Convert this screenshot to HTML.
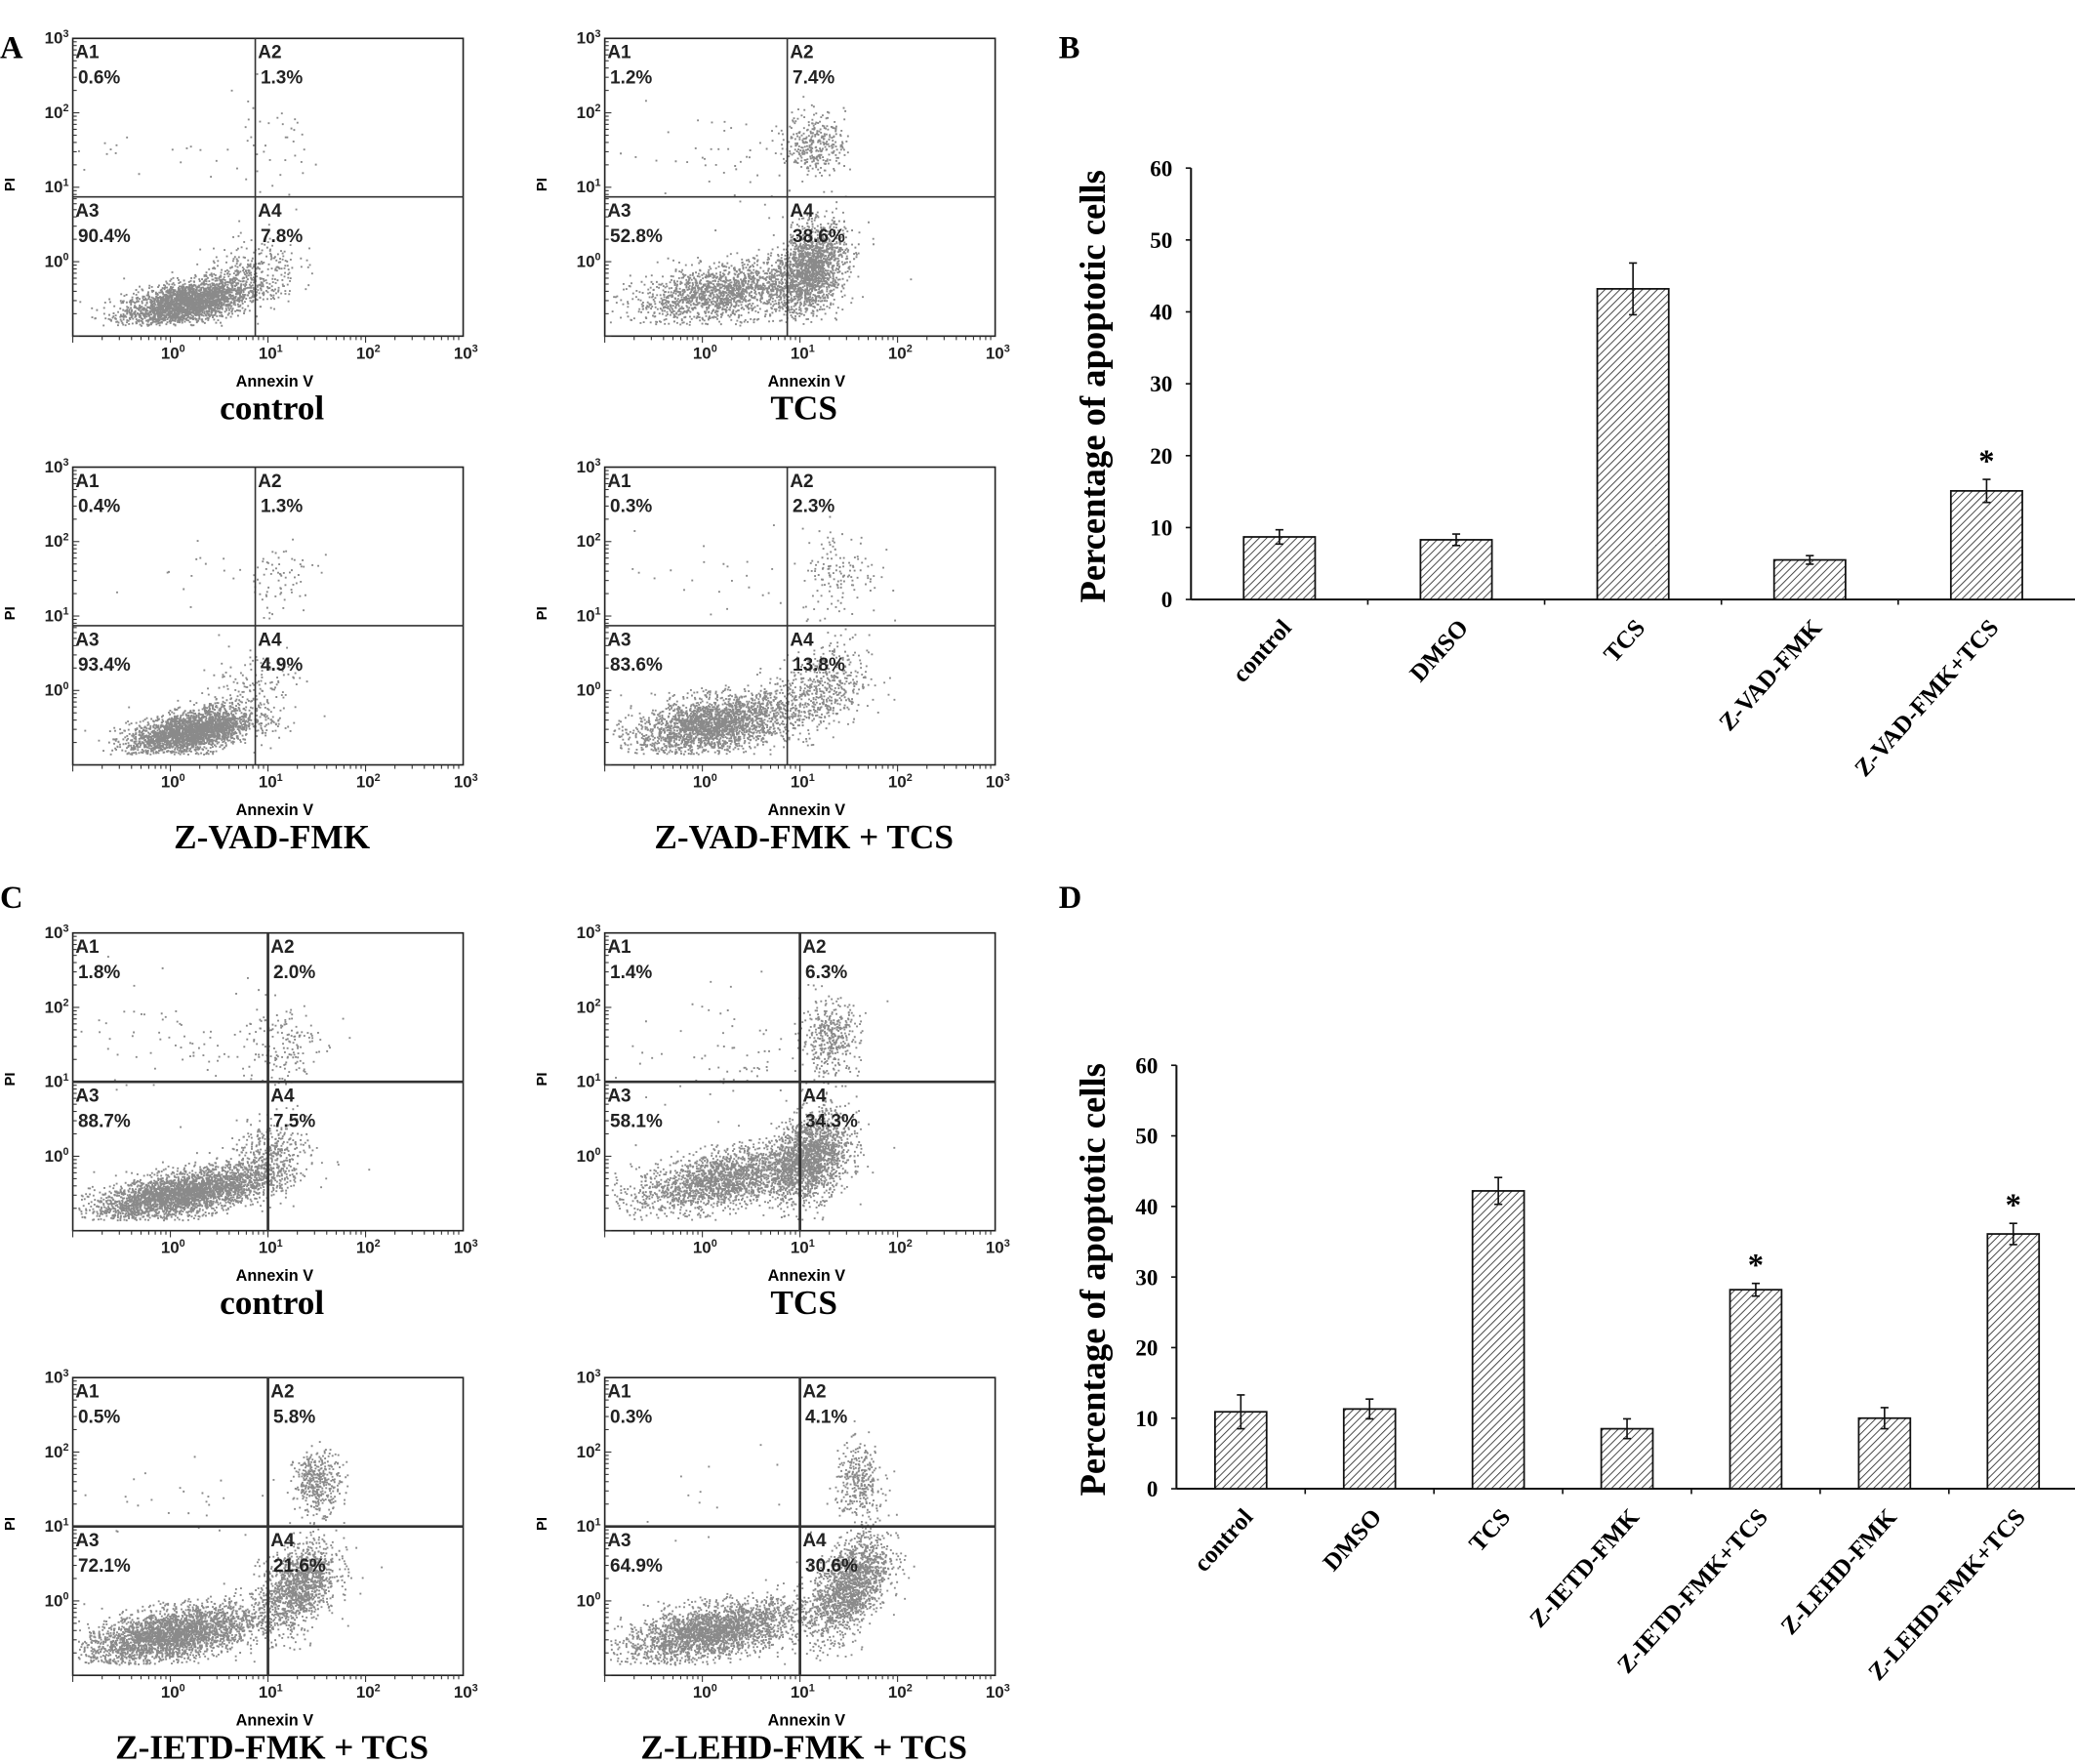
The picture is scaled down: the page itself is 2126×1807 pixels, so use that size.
<!DOCTYPE html>
<html><head><meta charset="utf-8"><style>
html,body{margin:0;padding:0;background:#fff}
svg{display:block}
.ser{font-family:"Liberation Serif",serif;font-weight:bold}
.san{font-family:"Liberation Sans",sans-serif;font-weight:bold}
</style></head><body>
<svg id="fig" width="2126" height="1807" viewBox="0 0 1568 1333" preserveAspectRatio="none" xmlns="http://www.w3.org/2000/svg">
<defs>
<pattern id="hatch" patternUnits="userSpaceOnUse" width="4" height="4" patternTransform="rotate(45)">
<rect width="4" height="4" fill="#fff"/><line x1="0" y1="0" x2="0" y2="4" stroke="#333" stroke-width="1.3"/>
</pattern>
</defs>
<text class="ser" x="0" y="44" font-size="24">A</text>
<text class="ser" x="800" y="44" font-size="24">B</text>
<text class="ser" x="0" y="686" font-size="24">C</text>
<text class="ser" x="800" y="686" font-size="24">D</text>
<g id="layer"></g>
</svg>
<script>
// ---- Bar chart data ----
const catsB = ["control","DMSO","TCS","Z-VAD-FMK","Z-VAD-FMK+TCS"];
const valsB = [8.7, 8.3, 43.2, 5.5, 15.1];
const errsB = [1.0, 0.8, 3.6, 0.6, 1.6];
const starB = [false,false,false,false,true];
const catsD = ["control","DMSO","TCS","Z-IETD-FMK","Z-IETD-FMK+TCS","Z-LEHD-FMK","Z-LEHD-FMK+TCS"];
const valsD = [10.9, 11.3, 42.2, 8.5, 28.2, 10.0, 36.1];
const errsD = [2.4, 1.4, 1.9, 1.4, 0.9, 1.5, 1.5];
const starD = [false,false,false,false,true,false,true];
const yTicks = [0,10,20,30,40,50,60];
// ---- Flow plot quadrant percentages [A1,A2,A3,A4] ----
const pctA_control = ["0.6%","1.3%","90.4%","7.8%"];
const pctA_tcs = ["1.2%","7.4%","52.8%","38.6%"];
const pctA_zvad = ["0.4%","1.3%","93.4%","4.9%"];
const pctA_zvadtcs = ["0.3%","2.3%","83.6%","13.8%"];
const pctC_control = ["1.8%","2.0%","88.7%","7.5%"];
const pctC_tcs = ["1.4%","6.3%","58.1%","34.3%"];
const pctC_ietd = ["0.5%","5.8%","72.1%","21.6%"];
const pctC_lehd = ["0.3%","4.1%","64.9%","30.6%"];

const NS="http://www.w3.org/2000/svg";
const layer=document.getElementById('layer');
function el(tag,attrs,parent){const e=document.createElementNS(NS,tag);for(const k in attrs)e.setAttribute(k,attrs[k]);(parent||layer).appendChild(e);return e;}

let seed=12345;
function rnd(){seed=(seed*1103515245+12345)%2147483648;return seed/2147483648;}
function gauss(){let u=0,v=0;while(u===0)u=rnd();v=rnd();return Math.sqrt(-2*Math.log(u))*Math.cos(2*Math.PI*v);}

function flow(x0,y0,q,pct,clusters,title,name,thick){
  const w=295,h=225;
  const g=el('g',{});
  
  
  const X=l=>x0+(l+1)*w/4, Y=l=>y0+(3-l)*h/4;
  let d='';
  clusters.forEach(c=>{const n=Math.round(c[5]*1.8);for(let i=0;i<n;i++){const a=gauss(),b=gauss();const lx=c[0]+c[2]*a;const ly=c[1]+c[3]*(c[4]*a+Math.sqrt(1-c[4]*c[4])*b);
    if(lx<-0.95||lx>2.95||ly<-0.85||ly>2.95)continue;d+='M'+X(lx).toFixed(1)+' '+Y(ly).toFixed(1)+'h1.4v1.4h-1.4z';}});
  const dots=el('path',{d:d,fill:'#8a8a8a'},g);
  
  
  el('rect',{x:x0,y:y0,width:w,height:h,fill:'none',stroke:'#222','stroke-width':1.2},g);
  el('line',{x1:X(q),x2:X(q),y1:y0,y2:y0+h,stroke:'#333','stroke-width':thick?2:1.2},g);
  el('line',{x1:x0,x2:x0+w,y1:Y(q),y2:Y(q),stroke:'#333','stroke-width':thick?2:1.2},g);
  for(let dec=-1;dec<3;dec++){for(let m=1;m<10;m++){const l=dec+Math.log10(m);
    const L=m===1?5:3;
    el('line',{x1:X(l),x2:X(l),y1:y0+h,y2:y0+h+L,stroke:'#333','stroke-width':0.8},g);
    el('line',{x1:x0,x2:x0+L,y1:Y(l),y2:Y(l),stroke:'#333','stroke-width':0.8},g);}}
  for(let l=0;l<=3;l++){
    const t=el('text',{x:X(l)+2,y:y0+h+17,'font-size':12.5,'text-anchor':'middle',class:'san',fill:'#222'},g);
    t.innerHTML='10<tspan font-size="8" dy="-5">'+l+'</tspan>';
    
    
    const t2=el('text',{x:x0-3,y:Y(l)+4,'font-size':12.5,'text-anchor':'end',class:'san',fill:'#222'},g);
    t2.innerHTML='10<tspan font-size="8" dy="-5">'+l+'</tspan>';
    
    
  }
  const py=el('text',{x:0,y:0,'font-size':11,class:'san','text-anchor':'middle',transform:'translate('+(x0-44)+','+(Y(1)-2)+') rotate(-90)'},g);
  py.textContent='PI';
  
  
  const ax=el('text',{x:x0+w/2+5,y:y0+h+38,'font-size':12,class:'san','text-anchor':'middle'},g);
  ax.textContent='Annexin V';
  
  
  const ti=el('text',{x:x0+w/2+3,y:y0+h+63,'font-size':26,class:'ser','text-anchor':'middle'},g);
  ti.textContent=title;
  
  
  const qx=X(q),qy=Y(q);
  const pos=[[x0,y0],[qx,y0],[x0,qy],[qx,qy]];
  ['A1','A2','A3','A4'].forEach((n,i)=>{
    const a=el('text',{x:pos[i][0]+2,y:pos[i][1]+15,'font-size':14,class:'san',fill:'#222'},g);a.textContent=n;
    
    
    const p=el('text',{x:pos[i][0]+4,y:pos[i][1]+34,'font-size':14,class:'san',fill:'#222'},g);p.textContent=pct[i];
    
    
  });
}
const qA=0.87;
flow(55,29,qA,pctA_control,[[0.15,-0.55,0.32,0.16,0.5,1400],[0.8,-0.2,0.25,0.25,0.3,200],[1.0,1.5,0.3,0.4,0,20],[0,1.4,0.6,0.3,0,12]],'control','flow-a-control',false);
flow(457,29,qA,pctA_tcs,[[0.2,-0.4,0.45,0.2,0.4,900],[1.1,-0.1,0.18,0.3,0.3,900],[1.15,1.6,0.15,0.2,0,180],[0.3,1.4,0.6,0.4,0,30]],'TCS','flow-a-tcs',false);
flow(55,353,qA,pctA_zvad,[[0.2,-0.55,0.32,0.16,0.5,1400],[0.8,0,0.25,0.3,0.3,100],[1.1,1.5,0.2,0.25,0,40],[0,1.6,0.5,0.2,0,8]],'Z-VAD-FMK','flow-a-zvad',false);
flow(457,353,qA,pctA_zvadtcs,[[0.1,-0.45,0.4,0.2,0.4,1300],[1.2,0,0.25,0.3,0.3,300],[1.4,1.6,0.2,0.3,0,80],[0,1.5,0.5,0.3,0,12]],'Z-VAD-FMK + TCS','flow-a-zvad-tcs',false);
flow(55,705,1,pctC_control,[[0.1,-0.5,0.45,0.18,0.6,1700],[1.0,0,0.2,0.25,0.3,250],[1.1,1.5,0.2,0.3,0,90],[0.3,1.5,0.6,0.4,0,40]],'control','flow-c-control',true);
flow(457,705,1,pctC_tcs,[[0.2,-0.3,0.45,0.22,0.5,1100],[1.1,0,0.2,0.3,0.3,900],[1.3,1.6,0.15,0.25,0,220],[0.4,1.4,0.6,0.4,0,40]],'TCS','flow-c-tcs',true);
flow(55,1041,1,pctC_ietd,[[0,-0.45,0.45,0.2,0.5,1600],[1.3,0.2,0.2,0.3,0.4,700],[1.5,1.6,0.12,0.2,0,220],[0.2,1.4,0.5,0.3,0,15]],'Z-IETD-FMK + TCS','flow-c-ietd-tcs',true);
flow(457,1041,1,pctC_lehd,[[0.1,-0.4,0.45,0.2,0.5,1400],[1.5,0.2,0.2,0.35,0.5,900],[1.6,1.6,0.12,0.25,0,180],[0.2,1.4,0.5,0.3,0,8]],'Z-LEHD-FMK + TCS','flow-c-lehd-tcs',true);

function bars(ax,yTop,yBot,xEnd,cats,vals,errs,stars,bw,name,titleY){
  const g=el('g',{});
  
  
  const cw=(xEnd-ax)/cats.length;
  const Y=v=>yBot-(v/60)*(yBot-yTop);
  const X=i=>ax+cw*(i+0.5);
  el('line',{x1:ax,x2:ax,y1:yTop,y2:yBot,stroke:'#111','stroke-width':1.5},g);
  el('line',{x1:ax,x2:xEnd,y1:yBot,y2:yBot,stroke:'#111','stroke-width':1.5},g);
  yTicks.forEach(t=>{
    el('line',{x1:ax-4,x2:ax,y1:Y(t),y2:Y(t),stroke:'#111','stroke-width':1.2},g);
    const tx=el('text',{x:ax-14,y:Y(t)+6,'font-size':17,class:'ser','text-anchor':'end'},g);tx.textContent=t;
    
    
  });
  for(let i=1;i<cats.length;i++)el('line',{x1:ax+cw*i,x2:ax+cw*i,y1:yBot,y2:yBot+4,stroke:'#111','stroke-width':1.2},g);
  cats.forEach((c,i)=>{
    const b=el('rect',{x:X(i)-bw/2,y:Y(vals[i]),width:bw,height:yBot-Y(vals[i]),fill:'url(#hatch)',stroke:'#111','stroke-width':1.3},g);
    
    
    const e1=Y(vals[i]+errs[i]),e0=Y(vals[i]-errs[i]);
    const eb=el('path',{d:`M${X(i)} ${e1}V${e0}M${X(i)-3} ${e1}h6M${X(i)-3} ${e0}h6`,stroke:'#111','stroke-width':1.2,fill:'none'},g);
    
    
    if(stars[i]){const s=el('text',{x:X(i),y:e1-6,'font-size':24,class:'ser','text-anchor':'middle'},g);s.textContent='*';
      
      }
    const l=el('text',{x:0,y:0,'font-size':18.5,class:'ser','text-anchor':'end',transform:`translate(${X(i)+10},${yBot+22}) rotate(-48)`},g);l.textContent=c;
    
    
  });
  const t=el('text',{x:0,y:0,'font-size':27,class:'ser','text-anchor':'middle',transform:`translate(835,${titleY}) rotate(-90)`},g);
  t.textContent='Percentage of apoptotic cells';
  
  
}
bars(900,127,453,1568,catsB,valsB,errsB,starB,54,'bar-chart-b',292);
bars(889,805,1125,1570,catsD,valsD,errsD,starD,39,'bar-chart-d',967);
</script>
</body></html>
